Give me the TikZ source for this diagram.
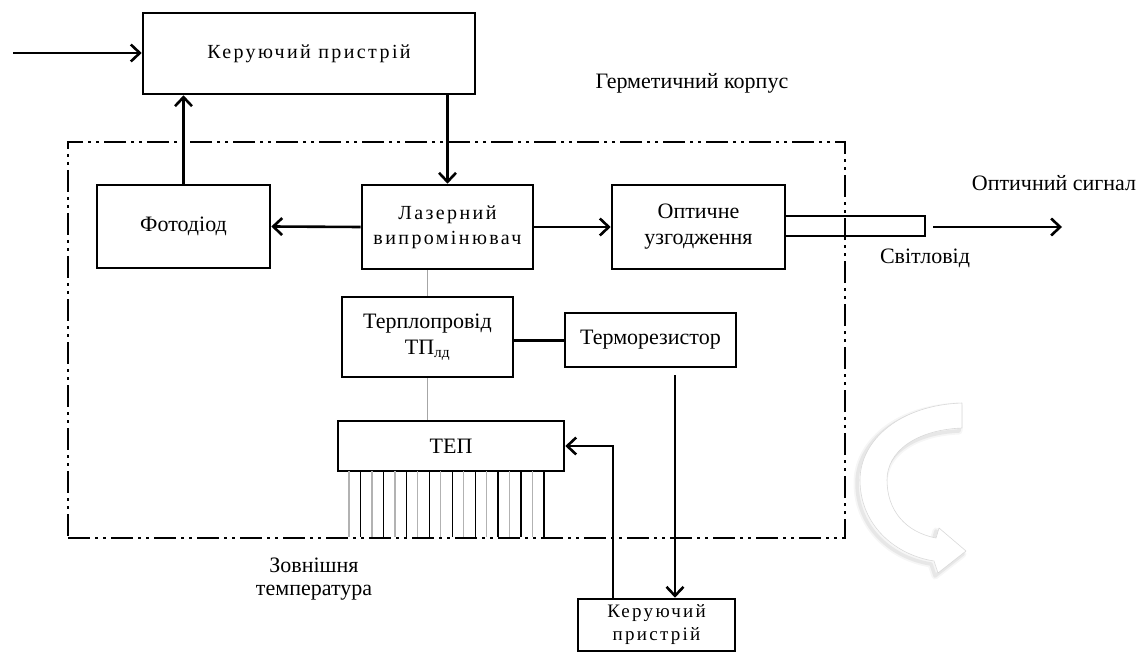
\documentclass[tikz,border=0pt]{standalone}
\usepackage{fontspec}
\setmainfont{Liberation Serif}
\newfontfamily\seriffont{Liberation Serif}
\newfontfamily\spacedfont[LetterSpace=12]{Liberation Serif}
\usetikzlibrary{arrows.meta}
\begin{document}
\begin{tikzpicture}[x=1pt,y=-1pt,
  box/.style={draw, line width=2.6pt, inner sep=0pt, align=center, font=\seriffont\fontsize{22}{26}\selectfont},
  lbl/.style={inner sep=0pt, align=center, font=\seriffont\fontsize{22}{23}\selectfont},
  sp/.style={font=\spacedfont\fontsize{20}{25}\selectfont},
  arr/.style={line width=2.6pt, -{Straight Barb[length=9pt,width=17pt]}},
  conn/.style={line width=3pt},
  thinline/.style={line width=1.2pt, draw=gray!70},
  housing/.style={draw, line width=2.4pt, dash pattern=on 22pt off 5pt on 3pt off 5pt on 3pt off 5pt},
  fin/.style={line width=1.3pt}
]
\useasboundingbox (0,0) rectangle (1142,652);

% housing
\node[housing, minimum width=777, minimum height=396, inner sep=0pt] (housing) at (456.5,340) {};

% boxes
\node[box, sp, minimum width=332, minimum height=81] (ctrl1) at (309,53.5) {\raisebox{-7pt}{Керуючий пристрій}};
\node[box, minimum width=173, minimum height=83] (pd) at (183.5,226.5) {\raisebox{-3pt}{Фотодіод}};
\node[box, sp, minimum width=171, minimum height=84] (laser) at (447.5,227) {Лазерний\\випромінювач};
\node[box, minimum width=173, minimum height=84] (opt) at (698.5,227) {Оптичне\\узгодження};
\node[draw, line width=2pt, inner sep=0pt, minimum width=140, minimum height=20] (fiber) at (855,226) {};
\node[box, minimum width=171, minimum height=80] (hp) at (427.5,337) {Терплопровід\\ТП\textsubscript{лд}};
\node[box, minimum width=171, minimum height=54] (thermo) at (650.5,340) {Терморезистор};
\node[box, minimum width=226, minimum height=50] (tep) at (451,446) {ТЕП};
\node[box, sp, minimum width=157, minimum height=52, font=\spacedfont\fontsize{19}{23}\selectfont] (ctrl2) at (656.5,625) {Керуючий\\пристрій};

% labels
\node[lbl] (herm) at (692,83) {Герметичний корпус};
\node[lbl] (sig) at (1054,183) {Оптичний сигнал};
\node[lbl] (svit) at (925,258) {Світловід};
\node[lbl] (ext) at (314,579) {Зовнішня\\температура};

% connectors
\coordinate (in) at (13,53);
\draw[arr] (in) -- (in -| ctrl1.west);
\draw[arr] (pd.north) -- (pd.north |- ctrl1.south);
\draw[arr] (laser.north |- ctrl1.south) -- (laser.north);
\draw[arr] (laser.west) -- (pd.east);
\draw[arr] (laser.east) -- (opt.west);
\coordinate (outS) at (933,227);
\coordinate (outE) at (1062,227);
\draw[arr] (outS) -- (outE);
\draw[thinline] (hp.north |- laser.south) -- (hp.north);
\draw[thinline] (hp.south) -- (hp.south |- tep.north);
\draw[conn] (hp.east |- thermo.west) -- (thermo.west);
\coordinate (t1) at (675,375);
\draw[arr] (t1) -- (t1 |- ctrl2.north);
\draw[arr] ([xshift=-43.5pt]ctrl2.north) |- (tep.east);

% fins of the thermoelectric module
\foreach \i in {0,...,17}{
  \pgfmathsetmacro{\fx}{349+\i*11.47}
  \ifodd\i
    \draw[fin, black] (\fx,471) -- (\fx,537);
  \else
    \draw[fin, gray!60] (\fx,471) -- (\fx,537);
  \fi
}

% curved (rotation) arrow, white with soft shadow
\def\CurvePath{(962,403) .. controls (900,405) and (860,440) .. (860,480) .. controls (860,525) and (895,555) .. (934,561) -- (938,573) -- (966,551) -- (939,528) -- (936,538) .. controls (905,532) and (887,510) .. (887,480) .. controls (887,452) and (915,430) .. (962,428) -- cycle}
\begin{scope}[shift={(-3,3)}]
  \path[draw=gray!60, line width=7pt, opacity=0.12, line join=round] \CurvePath;
  \path[draw=gray!60, line width=3.5pt, opacity=0.22, line join=round] \CurvePath;
\end{scope}
\path[fill=white, draw=gray!30, line width=0.6pt, line join=round] \CurvePath;
\end{tikzpicture}
\end{document}
